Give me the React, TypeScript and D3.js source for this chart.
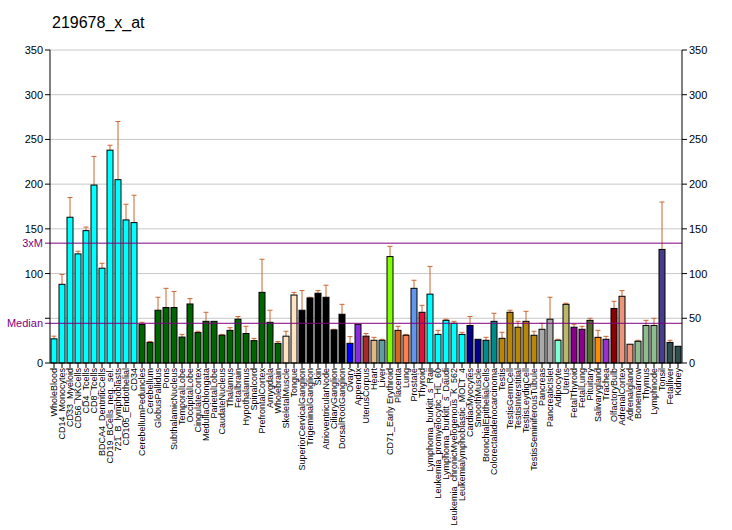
import * as d3 from "d3";

const title = "219678_x_at";

const categories = [
  "WholeBlood", "CD14_Monocytes", "CD33_Myeloid", "CD56_NKCells", "CD4_Tcells", "CD8_Tcells",
  "BDCA4_DentriticCells", "CD19_BCells_neg._sel.", "721_B_lymphoblasts", "CD105_Endothelial", "CD34",
  "CerebellumPeduncles", "Cerebellum", "GlobusPallidus", "Pons", "SubthalamicNucleus", "TemporalLobe",
  "OccipitalLobe", "CingulateCortex", "MedullaOblongata", "ParietalLobe", "CaudateNucleus", "Thalamus",
  "Fetalbrain", "Hypothalamus", "Spinalcord", "PrefrontalCortex", "Amygdala", "Wholebrain",
  "SkeletalMuscle", "Tongue", "SuperiorCervicalGanglion", "TrigeminalGanglion", "Skin",
  "AtrioventricularNode", "CiliaryGanglion", "DorsalRootGanglion", "Ovary", "Appendix", "UterusCorpus",
  "Heart", "Liver", "CD71_Early Erythroid", "Placenta", "Lung", "Prostate", "Thyroid",
  "Lymphoma_burkitt_s_Raji", "Leukemia_promyelocytic_HL_60", "Lymphoma_burkitt_s_Daudi",
  "Leukemia_chronicMyelogenous_K_562", "Leukemialymphoblastic_MOLT_4", "CardiacMyocytes",
  "SmoothMuscle", "BronchialEpithelialCells", "Colorectaladenocarcinoma", "Testis", "TestisGermCell",
  "TestisInterstitial", "TestisLeydigCell", "TestisSeminiferousTubule", "Pancreas", "PancreaticIslet",
  "Adipocyte", "Uterus", "FetalThyroid", "FetalLung", "Pituitary", "Salivarygland", "Trachea",
  "OlfactoryBulb", "AdrenalCortex", "Adrenalgland", "Bonemarrow", "Thymus", "Lymphnode", "Tonsil",
  "Fetalliver", "Kidney",
];

const values = [
  27, 88, 163, 122, 148, 199, 106, 238, 205, 160, 157,
  43, 23, 59, 62, 62, 29, 66, 34, 46.6, 46.6, 31, 36.5, 49, 33, 25, 79, 45.5, 22,
  30, 76, 59, 72.7, 78, 73.5, 37, 54.5, 22, 43.3, 30, 25.4, 25.4, 119, 36.5, 31,
  83.5, 56.7, 77, 32, 47.7, 44.4, 32, 42, 26.5, 25.4, 46.6, 27.6, 56.7, 40, 46.6, 31,
  37.7, 49, 25.4, 65.6, 40, 37.7, 47.7, 28.7, 26.5, 61, 74.6, 21, 24.3, 42, 42, 127,
  23, 18.7,
];

// top of the error whisker (null = none drawn)
const errTops = [
  30, 99, 185, 125, 152, 231, 111.5, 243.5, 270, 177.5, 187.6,
  45.5, 24, 73.5, 83.5, 80, 32, 72, 35.5, 56.7, null, 32, 39.5, 52, 41, 27.5, 116, 59, 24,
  35.5, 79, 81, 73.5, 81, 87, 37.7, 65.6, 29.5, null, 33, 28.7, 26.5, 130.5, 41, 32,
  92.5, 64.5, 108, 36.5, 49, 46.6, 34.3, 52, null, 28.7, 55.6, 34.3, 59, 46.6, 57.8, 35.5,
  44.4, 73.5, 26.5, 66.8, 43.3, 41, 50, 36.5, 29.8, 69, 81, null, 25.4, 47.7, 50, 180,
  25.4, null,
];

const colors = [
  ...Array(11).fill("#00FFFF"),
  ...Array(18).fill("#006400"),
  "#FFE4C4", "#FFE4C4",
  ...Array(6).fill("#000000"),
  "#0000FF", "#8A2BE2", "#A52A2A", "#DEB887", "#5F9EA0", "#7FFF00", "#D2691E", "#FF7F50",
  "#6495ED", "#DC143C",
  ...Array(5).fill("#00FFFF"),
  "#00008B", "#00008B", "#008B8B", "#008B8B",
  ...Array(5).fill("#B8860B"),
  "#A9A9A9", "#A9A9A9", "#7FFFD4", "#BDB76B", "#8B008B", "#8B008B", "#556B2F", "#FF8C00",
  "#9932CC", "#8B0000", "#E9967A", "#E9967A", "#8FBC8F", "#8FBC8F", "#8FBC8F", "#483D8B",
  "#2F4F4F", "#2F4F4F",
];

const yTicks = [0, 50, 100, 150, 200, 250, 300, 350];
const medianValue = 44.4;
const threeXM = 134;

const W = 732, H = 530;
const left = 50, right = 682, top = 50, bottom = 363;
const font = "Arial, 'Liberation Sans', sans-serif";

export default function App() {
  const x = d3.scaleBand<string>().domain(categories).range([left, right]).paddingInner(0.25).paddingOuter(0.125);
  const y = d3.scaleLinear().domain([0, 350]).range([bottom, top]);
  const purple = "#800080";
  const errColor = "#CC6633";

  return (
    <svg width={W} height={H} style={{ position: "absolute", left: 0, top: 0, background: "#fff" }}>
      <text x={52} y={28} fontFamily={font} fontSize={16}>{title}</text>

      {yTicks.filter(t => t > 0).map(t => (
        <line key={"g" + t} x1={left} x2={right} y1={y(t)} y2={y(t)} stroke="#C8C8C8" />
      ))}

      {categories.map((c, i) => {
        const bx = x(c)!;
        const cx = bx + x.bandwidth() / 2;
        const e = errTops[i];
        return (
          <g key={c}>
            {e !== null && (
              <g stroke={errColor}>
                <line x1={cx} x2={cx} y1={y(values[i])} y2={y(e)} />
                <line x1={cx - 2.5} x2={cx + 2.5} y1={y(e)} y2={y(e)} />
              </g>
            )}
            <rect x={bx} y={y(values[i])} width={x.bandwidth()} height={bottom - y(values[i])}
              fill={colors[i]} stroke="#000" strokeWidth={1} />
          </g>
        );
      })}

      <line x1={left - 5} x2={right} y1={y(threeXM)} y2={y(threeXM)} stroke={purple} />
      <line x1={left - 5} x2={right} y1={y(medianValue)} y2={y(medianValue)} stroke={purple} />
      <text x={left - 7} y={y(threeXM) + 4} textAnchor="end" fontFamily={font} fontSize={11} fill={purple}>3xM</text>
      <text x={left - 7} y={y(medianValue) + 4} textAnchor="end" fontFamily={font} fontSize={11} fill={purple}>Median</text>

      <line x1={left} x2={left} y1={top} y2={bottom} stroke="#000" />
      <line x1={right} x2={right} y1={top} y2={bottom} stroke="#000" />
      <line x1={left} x2={right} y1={bottom} y2={bottom} stroke="#000" />

      {yTicks.map(t => (
        <g key={"t" + t} fontFamily={font} fontSize={11}>
          <line x1={left - 5} x2={left} y1={y(t)} y2={y(t)} stroke="#000" />
          {t !== 50 && <text x={left - 7} y={y(t) + 4} textAnchor="end">{t}</text>}
          <line x1={right} x2={right + 5} y1={y(t)} y2={y(t)} stroke="#000" />
          <text x={right + 7} y={y(t) + 4}>{t}</text>
        </g>
      ))}

      {categories.map(c => {
        const cx = x(c)! + x.bandwidth() / 2;
        return (
          <g key={"l" + c}>
            <line x1={cx} x2={cx} y1={bottom} y2={bottom + 5} stroke="#000" />
            <text transform={`translate(${cx + 3.3},${bottom + 5}) rotate(-90)`} textAnchor="end"
              fontFamily={font} fontSize={9}>{c}</text>
          </g>
        );
      })}
    </svg>
  );
}
